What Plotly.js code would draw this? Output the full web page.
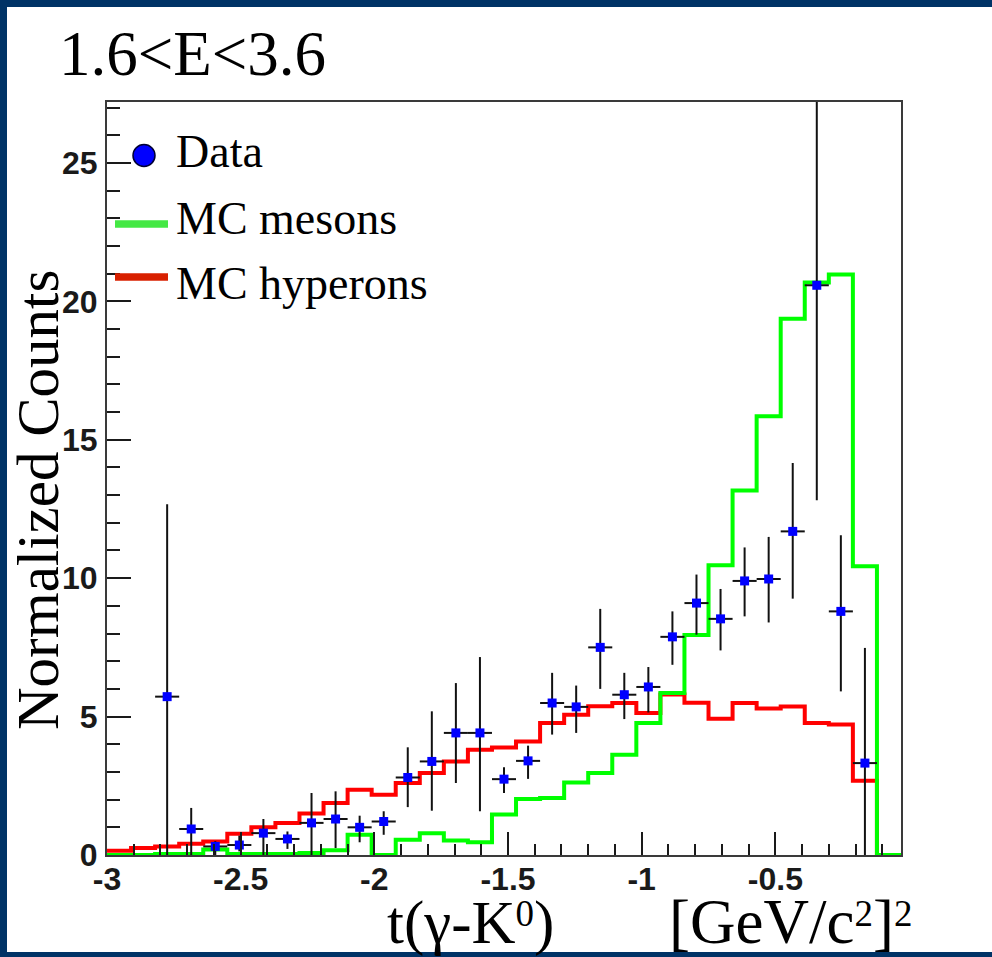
<!DOCTYPE html>
<html>
<head>
<meta charset="utf-8">
<script src="https://cdn.plot.ly/plotly-3.0.1.min.js"></script>
<style>
  html, body { margin: 0; padding: 0; background: #ffffff; }
  #plot { width: 992px; height: 957px; }
</style>
</head>
<body>
<div id="plot"></div>
<script>
// Histogram binning for t(γ-K0): 33 bins of width 0.09 starting at -3
const tMin = -3.0;
const binWidth = 0.09;
const nBins = 33;

// MC hyperons (red) per bin
const mcHyperons = [0.15, 0.25, 0.31, 0.41, 0.49, 0.77, 1.00, 1.16, 1.50, 1.88, 2.36,
                    2.18, 2.60, 2.96, 3.38, 3.80, 3.88, 4.10, 4.77, 5.07, 5.37, 5.49,
                    5.13, 5.80, 5.50, 4.92, 5.49, 5.29, 5.36, 4.77, 4.71, 2.68, 0.00];

// MC mesons (green) per bin
const mcMesons = [0.00, 0.00, 0.04, 0.04, 0.20, 0.04, 0.04, 0.04, 0.07, 0.17, 0.73,
                  0.00, 0.55, 0.79, 0.52, 0.46, 1.46, 2.02, 2.06, 2.62, 2.96, 3.62,
                  4.77, 5.85, 7.95, 10.47, 13.17, 15.85, 19.37, 20.68, 20.97, 10.43, 0.00];

// Data: filled bins start at bin index 2
const firstDataBin = 2;
const dataCounts = [5.72, 0.94, 0.31, 0.36, 0.79, 0.58, 1.16, 1.30, 1.00, 1.21,
                    2.80, 3.38, 4.41, 4.41, 2.74, 3.40, 5.49, 5.35, 7.50, 5.79,
                    6.07, 7.88, 9.10, 8.53, 9.90, 9.97, 11.69, 20.58, 8.80, 3.32];
const dataErrHigh = [6.95, 0.76, 0.19, 0.34, 0.51, 0.27, 1.08, 1.00, 0.42, 0.37,
                     1.09, 1.81, 1.80, 2.74, 0.43, 0.55, 1.09, 0.77, 1.39, 0.79,
                     0.72, 0.92, 1.03, 1.08, 1.21, 1.52, 2.47, 7.80, 2.75, 4.16];
const dataErrLow = [5.72, 0.94, 0.31, 0.23, 0.79, 0.36, 1.16, 1.05, 0.54, 0.48,
                    1.07, 1.78, 1.81, 2.83, 0.50, 0.65, 1.14, 0.94, 1.50, 0.88,
                    0.92, 1.01, 1.14, 1.14, 1.28, 1.57, 2.43, 7.77, 2.89, 3.32];

// Axis ticks
const xTickVals = [-3, -2.5, -2, -1.5, -1, -0.5];
const xTickText = ['-3', '-2.5', '-2', '-1.5', '-1', '-0.5'];
const yTickVals = [0, 5, 10, 15, 20, 25];
const yTickText = ['0', '5', '10', '15', '20', '25'];

// Texts (raised small digits use a baseline shift)
const sup = s => '<span style="font-size:37px;baseline-shift:17px">' + s + '</span>';
const titleText = '1.6&lt;E&lt;3.6';
const yTitleText = 'Normalized Counts';
const xTitleLeft = 't(γ-K' + sup('0') + ')';
const xTitleRight = '[GeV/c' + sup('2') + ']' + sup('2');
const legendLabels = ['Data', 'MC mesons', 'MC hyperons'];

// ---- geometry (pixels) ----
const W = 992, H = 957;
const L = 107, R = 901, T = 102, B = 855;
const PW = R - L, PH = B - T;
const px = x => (x - L) / PW;
const py = y => (B - y) / PH;

// bin edges / centres
const edges = [];
for (let k = 0; k <= nBins; k++) edges.push(+(tMin + k * binWidth).toFixed(4));
const stepY = v => v.concat([v[v.length - 1]]);
const dataX = dataCounts.map((_, i) => +(tMin + (firstDataBin + i + 0.5) * binWidth).toFixed(4));

const NAVY = '#003366';
const serif = 'Liberation Serif, Times New Roman, serif';
const sans = 'Liberation Sans, Arial, Helvetica, sans-serif';

const traces = [
  {
    x: edges, y: stepY(mcHyperons), mode: 'lines', line: { shape: 'hv', color: '#ff0000', width: 4 },
    hoverinfo: 'skip', showlegend: false
  },
  {
    x: edges, y: stepY(mcMesons), mode: 'lines', line: { shape: 'hv', color: '#00ff00', width: 4 },
    hoverinfo: 'skip', showlegend: false
  },
  {
    x: dataX, y: dataCounts, mode: 'markers',
    marker: { symbol: 'square', size: 9, color: '#0000ff', line: { width: 0 } },
    error_y: { type: 'data', symmetric: false, array: dataErrHigh, arrayminus: dataErrLow,
               color: '#111111', thickness: 2, width: 0 },
    error_x: { type: 'constant', value: binWidth / 2, color: '#111111', thickness: 2, width: 0 },
    showlegend: false
  }
];

const shapes = [
  // dark frame around the slide
  { type: 'rect', xref: 'paper', yref: 'paper', x0: px(0), x1: px(W), y0: py(0), y1: py(7),
    fillcolor: NAVY, line: { width: 0 }, layer: 'above' },
  { type: 'rect', xref: 'paper', yref: 'paper', x0: px(0), x1: px(7), y0: py(0), y1: py(H),
    fillcolor: NAVY, line: { width: 0 }, layer: 'above' },
  { type: 'rect', xref: 'paper', yref: 'paper', x0: px(0), x1: px(W), y0: py(952), y1: py(H),
    fillcolor: NAVY, line: { width: 0 }, layer: 'above' },
  // legend symbols
  { type: 'circle', xref: 'paper', yref: 'paper', x0: px(133), x1: px(155), y0: py(144.5), y1: py(166.5),
    fillcolor: '#0000ff', line: { color: '#000033', width: 1.5 }, layer: 'above' },
  { type: 'line', xref: 'paper', yref: 'paper', x0: px(115), x1: px(168), y0: py(224), y1: py(224),
    line: { color: '#44e844', width: 7.5 }, layer: 'above' },
  { type: 'line', xref: 'paper', yref: 'paper', x0: px(115), x1: px(168), y0: py(277), y1: py(277),
    line: { color: '#d82000', width: 7.5 }, layer: 'above' }
];

function label(text, x, yBottom, size, extra) {
  return Object.assign({
    text: text, xref: 'paper', yref: 'paper', x: px(x), y: py(yBottom),
    xanchor: 'left', yanchor: 'bottom', showarrow: false, borderpad: 0,
    font: { family: serif, size: size, color: '#000000' }
  }, extra || {});
}

const annotations = [
  label(titleText, 58, 90, 63),
  label(legendLabels[0], 175, 178, 46),
  label(legendLabels[1], 175, 245, 46),
  label(legendLabels[2], 175, 310, 46),
  label(xTitleLeft, 386, 958, 61),
  label(xTitleRight, 668, 958, 63),
  {
    text: yTitleText, xref: 'paper', yref: 'paper', x: px(38), y: py(500),
    xanchor: 'center', yanchor: 'middle', textangle: -90, showarrow: false, borderpad: 0,
    font: { family: serif, size: 59, color: '#000000' }
  }
];

const axisCommon = {
  showgrid: false, zeroline: false, showline: true, linecolor: '#3a3a3a', linewidth: 2,
  mirror: true, ticks: 'inside', tickwidth: 2, tickcolor: '#1a1a1a',
  tickfont: { family: sans, size: 32, weight: 'bold', color: '#1a1a1a' }
};

const layout = {
  width: W, height: H,
  margin: { l: L, r: W - R, t: T, b: H - B, pad: 0 },
  paper_bgcolor: '#ffffff', plot_bgcolor: '#ffffff',
  showlegend: false,
  xaxis: Object.assign({}, axisCommon, {
    range: [tMin, tMin + nBins * binWidth],
    tickmode: 'array', tickvals: xTickVals, ticktext: xTickText, ticklen: 23,
    ticklabelstandoff: -5,
    minor: { tickmode: 'linear', tick0: tMin, dtick: 0.1, ticks: 'inside', ticklen: 11,
             tickwidth: 2, tickcolor: '#1a1a1a', showgrid: false }
  }),
  yaxis: Object.assign({}, axisCommon, {
    range: [0, 27.2],
    tickmode: 'array', tickvals: yTickVals, ticktext: yTickText, ticklen: 24,
    ticklabelstandoff: 1,
    minor: { tickmode: 'linear', tick0: 0, dtick: 1, ticks: 'inside', ticklen: 13,
             tickwidth: 2, tickcolor: '#1a1a1a', showgrid: false }
  }),
  shapes: shapes,
  annotations: annotations
};

Plotly.newPlot('plot', traces, layout, { staticPlot: true, displayModeBar: false });
</script>
</body>
</html>
